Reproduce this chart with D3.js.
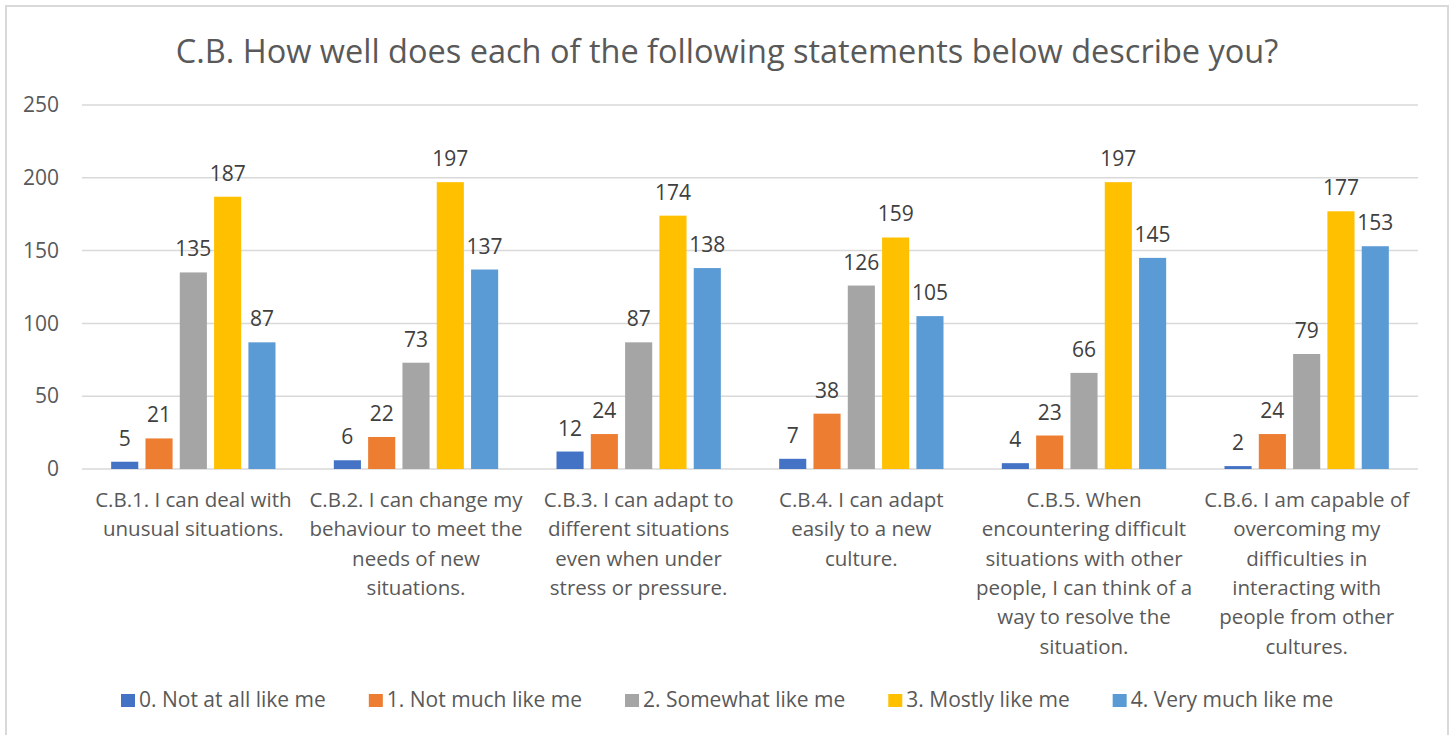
<!DOCTYPE html>
<html>
<head>
<meta charset="utf-8">
<script src="https://cdn.jsdelivr.net/npm/d3@7"></script>
<style>
  html, body { margin: 0; padding: 0; background: #fff; }
  svg { display: block; font-family: "Open Sans", "Noto Sans", sans-serif; }
</style>
</head>
<body>
<svg id="chart" width="1456" height="735"></svg>
<script>
// Survey item labels (pre-wrapped lines)
const categories = [
  ["C.B.1. I can deal with", "unusual situations."],
  ["C.B.2. I can change my", "behaviour to meet the", "needs of new", "situations."],
  ["C.B.3. I can adapt to", "different situations", "even when under", "stress or pressure."],
  ["C.B.4. I can adapt", "easily to a new", "culture."],
  ["C.B.5. When", "encountering difficult", "situations with other", "people, I can think of a", "way to resolve the", "situation."],
  ["C.B.6. I am capable of", "overcoming my", "difficulties in", "interacting with", "people from other", "cultures."]
];
const seriesNames = [
  "0. Not at all like me",
  "1. Not much like me",
  "2. Somewhat like me",
  "3. Mostly like me",
  "4. Very much like me"
];
const notAtAll   = [5, 6, 12, 7, 4, 2];
const notMuch    = [21, 22, 24, 38, 23, 24];
const somewhat   = [135, 73, 87, 126, 66, 79];
const mostly     = [187, 197, 174, 159, 197, 177];
const veryMuch   = [87, 137, 138, 105, 145, 153];
const seriesValues = [notAtAll, notMuch, somewhat, mostly, veryMuch];
const yTicks = [0, 50, 100, 150, 200, 250];
const colors = ["#4472C4", "#ED7D31", "#A5A5A5", "#FFC000", "#5B9BD5"];
const title = "C.B. How well does each of the following statements below describe you?";

const svg = d3.select("#chart");
const W = 1456, H = 735;
const plot = { left: 82, right: 1418, top: 105, bottom: 469 };

svg.append("rect").attr("width", W).attr("height", H).attr("fill", "#fff");
// chart frame
svg.append("rect")
  .attr("x", 6).attr("y", 6).attr("width", 1442).attr("height", 760)
  .attr("fill", "none").attr("stroke", "#D9D9D9").attr("stroke-width", 2);

// title
svg.append("text")
  .attr("x", 727).attr("y", 63)
  .attr("text-anchor", "middle")
  .attr("font-size", 32.5)
  .attr("fill", "#595959")
  .text(title);

const y = d3.scaleLinear().domain([0, 250]).range([plot.bottom, plot.top]);
const x0 = d3.scaleBand().domain(d3.range(categories.length))
  .range([plot.left, plot.right]).paddingInner(0).paddingOuter(0);
const x1 = d3.scaleBand().domain(d3.range(seriesNames.length))
  .range([0, x0.bandwidth()]).paddingInner(0.21).paddingOuter(0.85);

// gridlines
svg.append("g").selectAll("line").data(yTicks).join("line")
  .attr("x1", plot.left).attr("x2", plot.right)
  .attr("y1", d => y(d)).attr("y2", d => y(d))
  .attr("stroke", "#D9D9D9").attr("stroke-width", 1.5);

// y axis labels
const yAxis = d3.axisLeft(y).tickValues(yTicks).tickSize(0).tickPadding(0);
const gy = svg.append("g").attr("transform", "translate(59,0)").call(yAxis);
gy.select(".domain").remove();
gy.selectAll("text")
  .attr("font-family", "'Open Sans', 'Noto Sans', sans-serif")
  .attr("font-size", 21).attr("fill", "#595959");

// bars
const groups = svg.append("g").selectAll("g").data(categories.map((c, i) => i)).join("g")
  .attr("transform", i => `translate(${x0(i)},0)`);

groups.selectAll("rect")
  .data(ci => seriesValues.map((vals, si) => ({ si, v: vals[ci] })))
  .join("rect")
  .attr("x", d => x1(d.si))
  .attr("width", x1.bandwidth())
  .attr("y", d => y(d.v))
  .attr("height", d => y(0) - y(d.v))
  .attr("fill", d => colors[d.si]);

// value labels
groups.selectAll("text.val")
  .data(ci => seriesValues.map((vals, si) => ({ si, v: vals[ci] })))
  .join("text").attr("class", "val")
  .attr("x", d => x1(d.si) + x1.bandwidth() / 2)
  .attr("y", d => y(d.v) - 16)
  .attr("text-anchor", "middle")
  .attr("font-size", 21)
  .attr("fill", "#404040")
  .text(d => d.v);

// category labels
const catG = svg.append("g");
categories.forEach((lines, i) => {
  const cx = x0(i) + x0.bandwidth() / 2;
  const t = catG.append("text")
    .attr("x", cx)
    .attr("y", 507)
    .attr("text-anchor", "middle")
    .attr("font-size", 20.5)
    .attr("fill", "#595959");
  lines.forEach((ln, k) => {
    t.append("tspan")
      .attr("x", cx)
      .attr("dy", k === 0 ? 0 : 29.3)
      .text(ln);
  });
});

// legend
const legend = svg.append("g").attr("transform", "translate(121,0)");
let lx = 0;
seriesNames.forEach((name, i) => {
  const g = legend.append("g").attr("transform", `translate(${lx},0)`);
  g.append("rect").attr("x", 0).attr("y", 694).attr("width", 14).attr("height", 13)
    .attr("fill", colors[i]);
  const t = g.append("text")
    .attr("x", 18).attr("y", 707)
    .attr("font-size", 21)
    .attr("fill", "#595959")
    .text(name);
  const w = t.node().getComputedTextLength();
  lx += 18 + w + 43;
});
</script>
</body>
</html>
